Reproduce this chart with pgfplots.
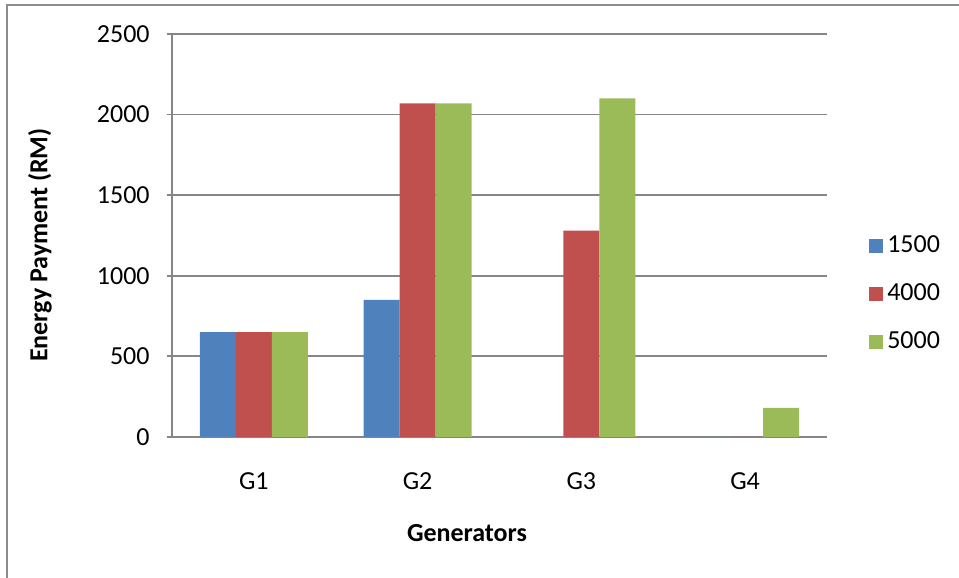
\documentclass[border=0pt]{standalone}
\usepackage{fontspec}
\setmainfont{Carlito}
\usepackage{pgfplots}
\pgfplotsset{compat=1.18}

\definecolor{serA}{HTML}{4F81BD}
\definecolor{serB}{HTML}{C0504D}
\definecolor{serC}{HTML}{9BBB59}
\definecolor{gridgray}{HTML}{868686}
\definecolor{framegray}{HTML}{8C8C8C}

\begin{document}
\begin{tikzpicture}
% page size and chart frame
\useasboundingbox (0pt,0pt) rectangle (479.5pt,289pt);
\draw[framegray, line width=0.8pt] (3.5pt,0pt) -- (3.5pt,286.5pt) -- (479.5pt,286.5pt);

\begin{axis}[
  at={(86pt,70.5pt)}, anchor=south west,
  scale only axis, width=327.5pt, height=201.5pt,
  ybar=0pt, bar width=18pt,
  xmin=-0.5, xmax=3.5,
  ymin=0, ymax=2500,
  ytick={0,500,1000,1500,2000,2500},
  xtick={0,1,2,3},
  xticklabels={G1,G2,G3,G4},
  axis x line*=bottom,
  axis y line*=left,
  axis line style={gridgray, line width=0.9pt},
  x axis line style={-},
  y axis line style={-},
  ymajorgrids,
  grid style={gridgray, line width=0.9pt},
  major x tick style={draw=none},
  major y tick style={gridgray, line width=0.9pt},
  tick align=outside,
  major tick length=2.5pt,
  /pgf/number format/assume math mode=true,
  /pgf/number format/1000 sep={},
  tick label style={font=\fontsize{13}{15}\selectfont, text=black},
  yticklabel style={inner sep=0pt, anchor=east, xshift=-8.5pt},
  xticklabel style={inner sep=0pt, anchor=north, yshift=-15pt},
  legend style={
    at={(1.064,0.355)}, anchor=west, draw=none, fill=none,
    font=\fontsize{13}{15}\selectfont, inner sep=0pt,
    row sep=10pt, cells={anchor=west},
    /tikz/every even column/.style={column sep=3pt},
  },
  legend image code/.code={
    \fill[#1] (0pt,-3.5pt) rectangle (7pt,3.5pt);
  },
  legend cell align=left,
  clip=false,
]
\addplot[fill=serA, draw=none] coordinates {(0,650) (1,850) (2,0) (3,0)};
\addplot[fill=serB, draw=none] coordinates {(0,650) (1,2070) (2,1280) (3,0)};
\addplot[fill=serC, draw=none] coordinates {(0,650) (1,2070) (2,2100) (3,180)};
\legend{1500,4000,5000}
\end{axis}

% axis titles
\node[font=\bfseries\fontsize{13}{15}\selectfont] at (233.5pt,22.5pt) {Generators};
\node[font=\bfseries\fontsize{13}{15}\selectfont, rotate=90] at (20pt,166.5pt) {Energy Payment (RM)};
\end{tikzpicture}
\end{document}
